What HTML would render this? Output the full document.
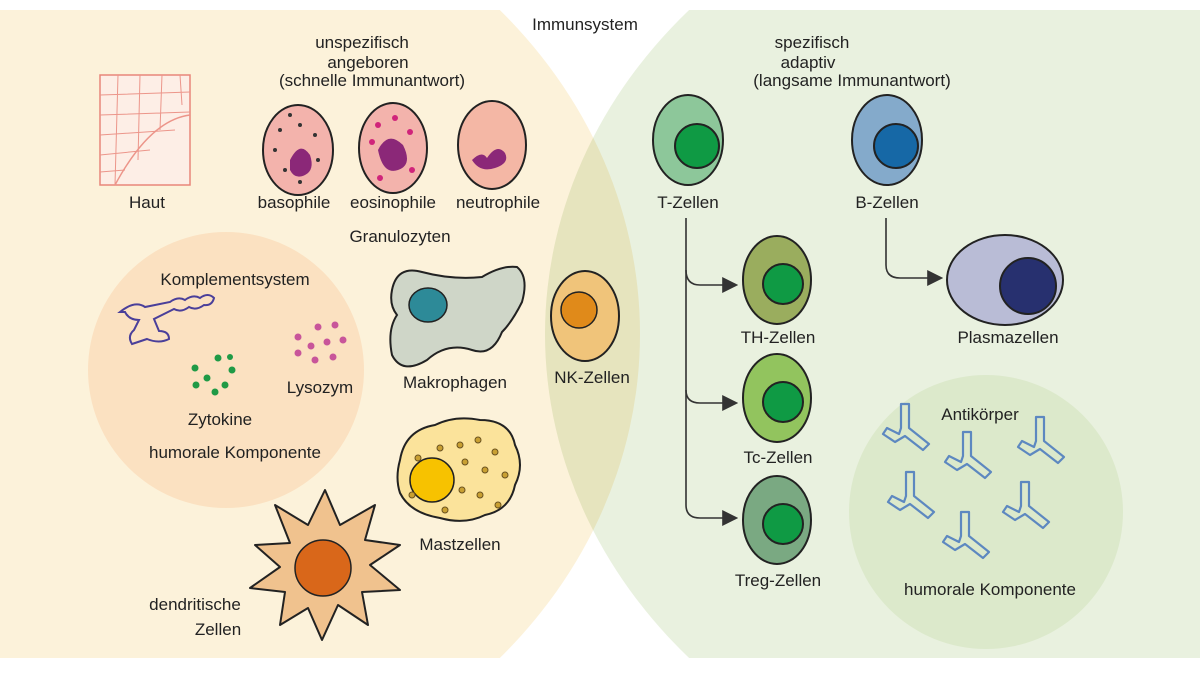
<!DOCTYPE html>
<html><head><meta charset="utf-8"><style>
html,body{margin:0;padding:0;background:#fff;width:1200px;height:675px;overflow:hidden}
svg{display:block}
text{font-family:"Liberation Sans Narrow","Liberation Sans",sans-serif;fill:#222;font-size:17px;text-anchor:middle}
</style></head><body>
<svg width="1200" height="675" viewBox="0 0 1200 675" xmlns="http://www.w3.org/2000/svg">
<defs>
<clipPath id="c"><rect x="0" y="10" width="1200" height="648"/></clipPath>
<path id="ab" d="M-4,-28 L4,-28 L4,-4 L24,12 L18,18 L0,4 L-10,10 L-22,2 L-18,-4 L-6,2 L-4,-4 Z" fill="none" stroke="#5d88c0" stroke-width="2.2" stroke-linejoin="round"/>
<marker id="ar" markerWidth="10" markerHeight="10" refX="8" refY="5" orient="auto"><path d="M0,0 L10,5 L0,10 Z" fill="#333"/></marker>
</defs>
<g clip-path="url(#c)">
<ellipse cx="100" cy="334" rx="540" ry="482" fill="#fcf2da"/>
<ellipse cx="1100" cy="334" rx="555" ry="482" fill="#e9f1df" style="mix-blend-mode:multiply"/>
</g>
<circle cx="226" cy="370" r="138" fill="#fbe1c1"/>
<circle cx="986" cy="512" r="137" fill="#dce9cb"/>

<text x="585" y="30" font-size="19">Immunsystem</text>
<text x="362" y="48">unspezifisch</text>
<text x="368" y="68">angeboren</text>
<text x="372" y="86">(schnelle Immunantwort)</text>
<text x="812" y="48">spezifisch</text>
<text x="808" y="68">adaptiv</text>
<text x="852" y="86">(langsame Immunantwort)</text>

<!-- Haut -->
<rect x="100" y="75" width="90" height="110" fill="#fdeee6" stroke="#e8867a" stroke-width="1.5"/>
<g stroke="#ec958a" stroke-width="1" fill="none">
<path d="M100,95 L190,92 M100,115 L190,112 M100,135 L175,130 M100,155 L150,150 M100,172 L125,170 M118,75 L115,185 M140,75 L138,160 M162,75 L160,130 M180,75 L182,105"/>
<path d="M115,185 Q150,120 190,115" stroke-width="1.5"/>
</g>
<text x="147" y="208">Haut</text>

<!-- Granulocytes -->
<g stroke="#222" stroke-width="2">
<ellipse cx="298" cy="150" rx="35" ry="45" fill="#f3b3ac"/>
<ellipse cx="393" cy="148" rx="34" ry="45" fill="#f3b3ac"/>
<ellipse cx="492" cy="145" rx="34" ry="44" fill="#f4b7a5"/>
</g>
<g fill="#8b2878">
<path d="M290,160 q10,-20 20,-5 q5,15 -5,20 q-10,5 -15,-5 z"/>
<path d="M378,150 q10,-20 25,-5 q10,20 -5,25 q-15,5 -20,-20 z"/>
<path d="M472,160 q10,-10 15,-2 q10,-15 18,-5 q5,10 -10,15 q-15,5 -23,-8 z"/>
</g>
<g fill="#333"><circle cx="280" cy="130" r="2"/><circle cx="300" cy="125" r="2"/><circle cx="315" cy="135" r="2"/><circle cx="275" cy="150" r="2"/><circle cx="285" cy="170" r="2"/><circle cx="318" cy="160" r="2"/><circle cx="300" cy="182" r="2"/><circle cx="290" cy="115" r="2"/></g>
<g fill="#d0247a"><circle cx="378" cy="125" r="3"/><circle cx="395" cy="118" r="3"/><circle cx="410" cy="132" r="3"/><circle cx="372" cy="142" r="3"/><circle cx="412" cy="170" r="3"/><circle cx="380" cy="178" r="3"/></g>
<text x="294" y="208">basophile</text>
<text x="393" y="208">eosinophile</text>
<text x="498" y="208">neutrophile</text>
<text x="400" y="242">Granulozyten</text>

<!-- Komplement -->
<text x="235" y="285">Komplementsystem</text>
<path d="M120,312 q15,-12 25,-5 l25,-5 q8,-6 15,-2 q8,-6 15,-2 q8,-6 14,0 q-2,8 -10,7 q-8,6 -15,2 q-8,6 -15,2 l-20,10 l5,12 q10,0 10,8 q-10,5 -22,0 l-15,5 q-5,-8 2,-14 l5,-10 q-10,0 -14,-8 z" fill="none" stroke="#4a3f9a" stroke-width="2"/>
<g fill="#1f9a46"><circle cx="195" cy="368" r="3.5"/><circle cx="218" cy="358" r="3.5"/><circle cx="232" cy="370" r="3.5"/><circle cx="207" cy="378" r="3.5"/><circle cx="225" cy="385" r="3.5"/><circle cx="196" cy="385" r="3.5"/><circle cx="215" cy="392" r="3.5"/><circle cx="230" cy="357" r="3"/></g>
<g fill="#c8559a"><circle cx="298" cy="337" r="3.5"/><circle cx="318" cy="327" r="3.5"/><circle cx="335" cy="325" r="3.5"/><circle cx="311" cy="346" r="3.5"/><circle cx="327" cy="342" r="3.5"/><circle cx="343" cy="340" r="3.5"/><circle cx="298" cy="353" r="3.5"/><circle cx="315" cy="360" r="3.5"/><circle cx="333" cy="357" r="3.5"/></g>
<text x="320" y="393">Lysozym</text>
<text x="220" y="425">Zytokine</text>
<text x="235" y="458">humorale Komponente</text>

<!-- Makrophagen -->
<path d="M392,290 q5,-25 30,-18 q30,8 60,5 q20,-12 35,-10 q12,10 5,35 q-10,20 -20,30 q-10,25 -30,18 q-25,-8 -45,10 q-25,15 -35,-5 q-5,-25 5,-40 q-8,-10 -5,-25 z" fill="#cfd6c8" stroke="#222" stroke-width="2"/>
<ellipse cx="428" cy="305" rx="19" ry="17" fill="#2d8a98" stroke="#222" stroke-width="1.5"/>
<text x="455" y="388">Makrophagen</text>

<!-- NK -->
<ellipse cx="585" cy="316" rx="34" ry="45" fill="#f0c47a" stroke="#222" stroke-width="2"/>
<circle cx="579" cy="310" r="18" fill="#e08a1a" stroke="#222" stroke-width="1.5"/>
<text x="592" y="383">NK-Zellen</text>

<!-- Mastzellen -->
<path d="M400,460 q5,-30 35,-35 q20,-10 45,-5 q30,0 35,25 q10,20 0,40 q-5,25 -30,30 q-20,10 -45,3 q-30,-5 -40,-25 q-5,-15 0,-33 z" fill="#fbe39b" stroke="#222" stroke-width="2"/>
<circle cx="432" cy="480" r="22" fill="#f7c200" stroke="#222" stroke-width="1.5"/>
<g fill="#c9a032" stroke="#6a5220" stroke-width="1"><circle cx="460" cy="445" r="3"/><circle cx="478" cy="440" r="3"/><circle cx="495" cy="452" r="3"/><circle cx="465" cy="462" r="3"/><circle cx="485" cy="470" r="3"/><circle cx="505" cy="475" r="3"/><circle cx="462" cy="490" r="3"/><circle cx="480" cy="495" r="3"/><circle cx="498" cy="505" r="3"/><circle cx="445" cy="510" r="3"/><circle cx="418" cy="458" r="3"/><circle cx="412" cy="495" r="3"/><circle cx="440" cy="448" r="3"/></g>
<text x="460" y="550">Mastzellen</text>

<!-- dendritic -->
<path d="M325,490 L340,525 L375,505 L365,540 L400,545 L370,565 L400,590 L362,592 L368,625 L338,605 L322,640 L308,608 L280,625 L285,592 L250,588 L280,567 L255,545 L290,543 L275,505 L308,525 Z" fill="#f0c28e" stroke="#222" stroke-width="2" stroke-linejoin="round"/>
<circle cx="323" cy="568" r="28" fill="#d9671a" stroke="#222" stroke-width="1.5"/>
<text x="195" y="610">dendritische</text>
<text x="218" y="635">Zellen</text>

<!-- T/B cells -->
<g stroke="#222" stroke-width="2">
<ellipse cx="688" cy="140" rx="35" ry="45" fill="#8dc79a"/>
<circle cx="697" cy="146" r="22" fill="#0f9a44"/>
<ellipse cx="887" cy="140" rx="35" ry="45" fill="#84aacb"/>
<circle cx="896" cy="146" r="22" fill="#1668a6"/>
<ellipse cx="777" cy="280" rx="34" ry="44" fill="#9aad5e"/>
<circle cx="783" cy="284" r="20" fill="#0f9a44"/>
<ellipse cx="777" cy="398" rx="34" ry="44" fill="#92c45e"/>
<circle cx="783" cy="402" r="20" fill="#0f9a44"/>
<ellipse cx="777" cy="520" rx="34" ry="44" fill="#7aa982"/>
<circle cx="783" cy="524" r="20" fill="#0f9a44"/>
<ellipse cx="1005" cy="280" rx="58" ry="45" fill="#b9bcd6"/>
<circle cx="1028" cy="286" r="28" fill="#27306f"/>
</g>
<text x="688" y="208">T-Zellen</text>
<text x="887" y="208">B-Zellen</text>
<text x="778" y="343">TH-Zellen</text>
<text x="778" y="463">Tc-Zellen</text>
<text x="778" y="586">Treg-Zellen</text>
<text x="1008" y="343">Plasmazellen</text>
<g fill="none" stroke="#333" stroke-width="1.6">
<path d="M686,218 L686,505 Q686,518 700,518 L735,518" marker-end="url(#ar)"/>
<path d="M686,270 Q686,285 700,285 L735,285" marker-end="url(#ar)"/>
<path d="M686,390 Q686,403 700,403 L735,403" marker-end="url(#ar)"/>
<path d="M886,218 L886,265 Q886,278 900,278 L940,278" marker-end="url(#ar)"/>
</g>

<!-- antibodies -->
<use href="#ab" x="905" y="432"/>
<use href="#ab" x="967" y="460"/>
<use href="#ab" x="1040" y="445"/>
<use href="#ab" x="910" y="500"/>
<use href="#ab" x="1025" y="510"/>
<use href="#ab" x="965" y="540"/>
<text x="980" y="420">Antikörper</text>
<text x="990" y="595">humorale Komponente</text>
</svg>
</body></html>
